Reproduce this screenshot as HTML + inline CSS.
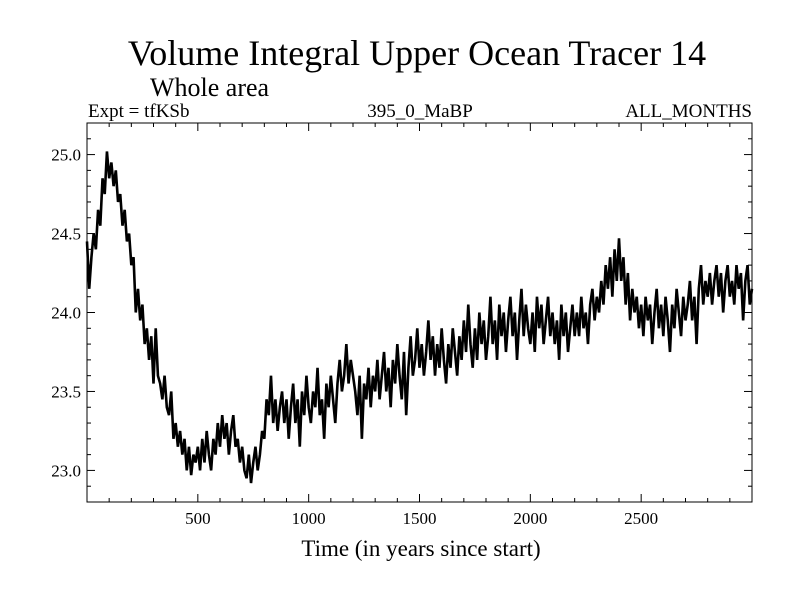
<!DOCTYPE html>
<html><head><meta charset="utf-8"><style>
html,body{margin:0;padding:0;background:#fff;}
svg{display:block;font-family:"Liberation Serif",serif;}
</style></head><body>
<svg id="chart" width="800" height="600" viewBox="0 0 800 600">
<rect width="800" height="600" fill="#fff"/>
<text x="417" y="65" font-size="36" text-anchor="middle">Volume Integral Upper Ocean Tracer 14</text>
<text x="150" y="96" font-size="26">Whole area</text>
<text x="88" y="117" font-size="19">Expt = tfKSb</text>
<text x="420" y="117" font-size="19" text-anchor="middle">395_0_MaBP</text>
<text x="752" y="117" font-size="19" text-anchor="end">ALL_MONTHS</text>
<g id="axes"></g>
<path id="series" fill="none" stroke="#000" stroke-width="2.6" stroke-linejoin="miter"/>
<rect x="87" y="123" width="665" height="379" fill="none" stroke="#000" stroke-width="1"/>
<text x="421" y="556" font-size="23" text-anchor="middle">Time (in years since start)</text>
</svg>
<script>
const yearStep = 10;
const values = [24.45,24.15,24.35,24.5,24.4,24.65,24.55,24.85,24.75,25.02,24.85,
24.95,24.8,24.9,24.7,24.75,24.55,24.65,24.45,24.5,24.3,
24.35,24.0,24.15,23.95,24.05,23.8,23.9,23.7,23.85,23.55,
23.9,23.6,23.55,23.45,23.6,23.4,23.35,23.5,23.2,23.3,
23.15,23.25,23.1,23.2,23.0,23.15,22.97,23.1,23.05,23.15,
23.0,23.2,23.05,23.25,23.1,23.0,23.2,23.1,23.3,23.15,
23.35,23.2,23.3,23.1,23.25,23.35,23.15,23.2,23.05,23.15,
23.0,22.95,23.1,22.92,23.05,23.15,23.0,23.1,23.25,23.2,
23.45,23.35,23.6,23.3,23.45,23.25,23.4,23.5,23.3,23.45,
23.2,23.4,23.55,23.3,23.45,23.15,23.5,23.35,23.6,23.4,
23.3,23.5,23.4,23.65,23.35,23.45,23.2,23.55,23.4,23.6,
23.45,23.3,23.55,23.7,23.5,23.6,23.8,23.55,23.7,23.6,
23.5,23.35,23.6,23.2,23.55,23.45,23.65,23.4,23.6,23.5,
23.7,23.45,23.6,23.75,23.5,23.65,23.4,23.7,23.55,23.8,
23.6,23.45,23.75,23.35,23.65,23.85,23.6,23.7,23.9,23.65,
23.8,23.6,23.75,23.95,23.7,23.85,23.6,23.8,23.65,23.9,
23.7,23.55,23.8,23.65,23.9,23.75,23.6,23.85,23.7,23.95,
23.75,24.05,23.8,23.65,23.9,23.7,24.0,23.8,23.95,23.7,
23.85,24.1,23.8,23.95,23.7,24.05,23.85,24.0,23.75,23.95,
24.1,23.85,24.0,23.7,23.95,24.15,23.85,24.05,23.9,23.8,
24.0,23.75,24.1,23.9,24.05,23.8,23.95,24.1,23.85,24.0,
23.8,23.95,23.7,24.05,23.85,24.0,23.75,23.9,24.05,23.85,
24.0,23.85,24.1,23.9,24.0,23.8,24.05,24.15,23.95,24.1,
24.0,24.2,24.05,24.3,24.15,24.35,24.1,24.4,24.2,24.47,
24.2,24.35,24.05,24.25,23.95,24.15,24.0,24.1,23.9,24.05,
23.85,24.1,23.95,24.05,23.8,24.0,24.15,23.9,24.05,23.85,
24.1,23.95,23.75,24.05,23.9,24.15,24.0,23.85,24.1,23.95,
24.05,24.2,23.95,24.1,23.8,24.15,24.3,24.05,24.2,24.1,
24.25,24.05,24.2,24.3,24.1,24.25,24.0,24.2,24.3,24.1,
24.2,24.05,24.3,24.15,24.25,23.95,24.2,24.3,24.05,24.15];
const xTicks = [500,1000,1500,2000,2500];
const yTicks = [23.0,23.5,24.0,24.5,25.0];
const xMin=0,xMax=3000,yMin=22.8,yMax=25.2;
const L=87,R=752,T=123,B=502;
function sx(v){return L+(v-xMin)/(xMax-xMin)*(R-L);}
function sy(v){return B-(v-yMin)/(yMax-yMin)*(B-T);}
const NS="http://www.w3.org/2000/svg";
const axes=document.getElementById('axes');
function line(x1,y1,x2,y2,name){const l=document.createElementNS(NS,'line');
l.setAttribute('x1',x1);l.setAttribute('y1',y1);l.setAttribute('x2',x2);l.setAttribute('y2',y2);
l.setAttribute('stroke','#000');l.setAttribute('stroke-width','1');


axes.appendChild(l);}
function text(x,y,s,anchor,name){const t=document.createElementNS(NS,'text');
t.setAttribute('x',x);t.setAttribute('y',y);t.setAttribute('font-size','17');t.setAttribute('text-anchor',anchor);t.textContent=s;


axes.appendChild(t);}
for(let v=100;v<xMax;v+=100){const x=sx(v);const major=v%500===0;const len=major?8:4;
line(x,B,x,B-len,'x-tick');line(x,T,x,T+len,'x-tick-top');}
for(let i=1;i<24;i++){const v=yMin+i*0.1;const y=sy(v);const major=Math.abs((v*10)%5)<0.01||Math.abs((v*10)%5-5)<0.01;const len=major?8:4;
line(L,y,L+len,y,'y-tick');line(R,y,R-len,y,'y-tick-right');}
xTicks.forEach(v=>text(sx(v),B+22,String(v),'middle','x-tick-label'));
yTicks.forEach(v=>text(L-6,sy(v)+6,v.toFixed(1),'end','y-tick-label'));
let d='';values.forEach((v,i)=>{d+=(i?'L':'M')+sx(i*yearStep).toFixed(2)+' '+sy(v).toFixed(2);});
document.getElementById('series').setAttribute('d',d);
</script>
</body></html>
